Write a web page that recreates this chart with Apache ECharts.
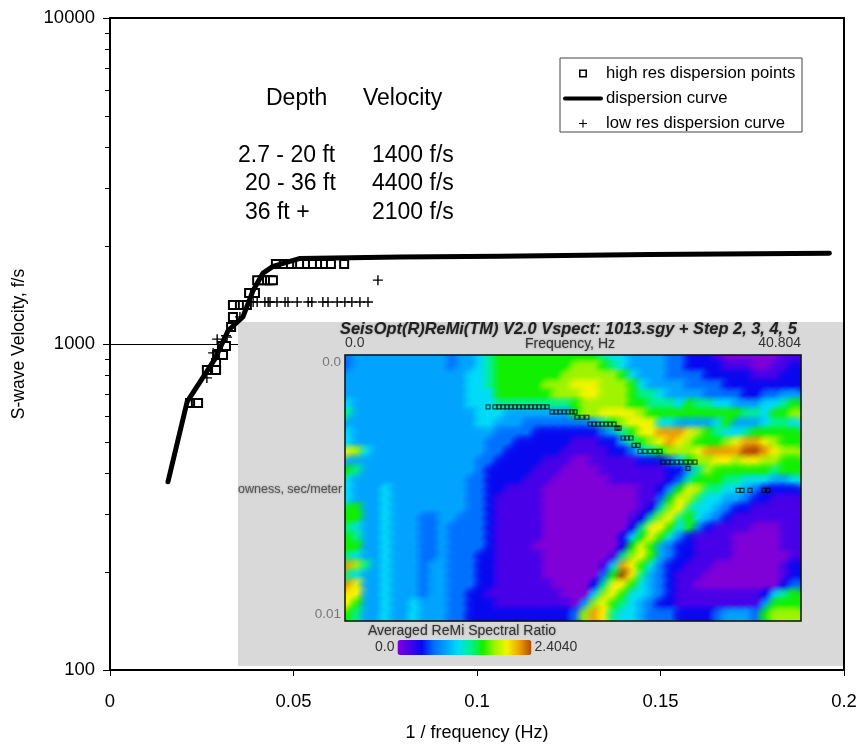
<!DOCTYPE html>
<html><head><meta charset="utf-8">
<style>html,body{margin:0;padding:0;background:#fff}#c{width:858px;height:744px}</style>
<script src="https://cdn.jsdelivr.net/npm/echarts@6/dist/echarts.min.js"></script>
</head><body><div id="c"></div>
<script>
// Dispersion curve: [1/frequency, velocity]
const curvePts = [[.0158,378],[.021,664],[.0286,900],[.0322,1100],[.0362,1210],[.039,1460],[.0417,1650],[.0444,1730],[.0518,1830],[.079,1850],[.1063,1860],[.147,1880],[.196,1900]];
// High resolution dispersion points
const highResPts = [[.0452,1760],[.0474,1760],[.0493,1760],[.051,1760],[.0518,1760],[.0537,1760],[.0553,1760],[.0572,1760],[.0586,1760],[.0602,1760],[.0638,1760],
[.0401,1570],[.0417,1570],[.0428,1570],[.0436,1570],[.0444,1570],[.0379,1434],[.0395,1434],
[.0335,1318],[.0354,1318],[.0362,1318],[.0373,1318],[.0335,1211],[.033,1127],[.0305,986],[.0316,986],[.0292,925],[.0308,925],[.0289,874],[.0264,832],[.0289,832],[.0218,659],[.0234,659],[.024,659]];
// Low resolution dispersion curve
const lowResPts = [[.039,1345],[.0401,1345],[.0422,1345],[.0431,1345],[.0436,1345],[.0455,1345],[.0477,1345],[.0485,1345],[.051,1345],[.054,1345],[.055,1345],[.058,1345],[.0594,1345],[.0619,1345],[.064,1345],[.0659,1345],[.0681,1345],[.0703,1345],[.073,1570],
[.0354,1211],[.0319,1050],[.0292,1035],[.0281,939],[.0264,787],[.0316,1060],[.0297,960]];
// Inset spectrum: rows of levels 0..b, top to bottom
const heatRows = [
"344444444443445677777777"+"777655444433222100000011",
"344444444443445677777777"+"888765444433222211100112",
"444444444444455677777778"+"888887544433332222211122",
"444444444444455677777888"+"999888754444333322222222",
"444444444444455577777788"+"899888766544443333223344",
"544444444444455566666666"+"788888776665766554445567",
"644444444444445554444444"+"788999987777777777665778",
"444444444444445544433333"+"334678999554444574445665",
"544444444444444433332222"+"222346799aaa987655677777",
"544444444444444333222222"+"11122467"+"89a98777"+"89aa9877",
"985444444444444332222221"+"11112235"+"678889aa"+"aabba988",
"444444444444443322222111"+"00111112"+"22357889"+"98998877",
"764444444444443222221110"+"00011111"+"11224687"+"77777677",
"544444444444433222211100"+"00001111"+"11236777"+"66555445",
"544454444444433221111000"+"00000001"+"12479866"+"55432222",
"544454444444433211111000"+"00000001"+"13798655"+"44322111",
"774454444444433211111000"+"00000001"+"26896554"+"32211111",
"774454443344333211111000"+"00000012"+"68967543"+"21111111",
"654454443343333211111000"+"00000026"+"99757321"+"11100011",
"764454443343333211111000"+"00000257"+"97532111"+"10000011",
"774454443343333211110000"+"00000279"+"74322111"+"10000011",
"654454443343332211111000"+"00001689"+"74322111"+"10000001",
"a86454443443332211111000"+"00015a97"+"53221110"+"00000012",
"654454443443332211111000"+"00037b96"+"43211100"+"00000012",
"a94454443443332211111100"+"00269975"+"43211000"+"00000023",
"994454443443322111111110"+"00589755"+"43211111"+"11112567",
"974454454443322211111111"+"04897654"+"32211111"+"11114777",
"764454454443322222222222"+"38a96554"+"33322223"+"44437888"
];
// Picks on the inset: [frequency Hz, slowness s/m]
const insetPicks = [[12.8,.00195],[13.42,.00195],[13.78,.00195],[14.14,.00195],[14.5,.00195],[14.85,.00195],[15.21,.00195],[15.57,.00195],[15.93,.00195],[16.29,.00195],[16.64,.00195],[17,.00195],[17.36,.00195],[17.72,.00195],[18.08,.00195],
[18.52,.00214],[18.88,.00214],[19.24,.00214],[19.6,.00214],[19.95,.00214],[20.31,.00214],[20.58,.00214],[20.76,.00234],[21.21,.00234],[21.65,.00234],
[21.92,.0026],[22.28,.0026],[22.64,.0026],[23,.0026],[23.36,.0026],[23.71,.0026],[24.07,.0026],[24.34,.00275],[24.52,.00275],[24.88,.00312],[25.23,.00312],[25.59,.00312],[25.86,.0034],[26.22,.0034],
[26.4,.00362],[26.84,.00362],[27.29,.00362],[27.74,.00362],[28.19,.00362],[28.45,.00403],[28.9,.00403],[29.26,.00403],[29.71,.00403],[30.07,.00403],[30.51,.00403],[30.87,.00403],[31.32,.00403],[30.69,.00426],
[35.17,.00509],[35.52,.00509],[36.24,.00509],[37.49,.00509],[37.85,.00509]];
const minorTicks = [200,300,400,500,600,700,800,900,2000,3000,4000,5000,6000,7000,8000,9000];
const insetColors = ['#8000d8','#4800e8','#0808f0','#0070ff','#00a4ff','#00dcf8','#00f090','#10f000','#a0f400','#f4f400','#f0a000','#b04808'];
const notes = [["Depth",266,99],["Velocity",363,99],["2.7 - 20 ft",238,156],["1400 f/s",372,156],["20 - 36 ft",245,184],["4400 f/s",372,184],["36 ft +",245,213],["2100 f/s",372,213]];

const heatData = [];
heatRows.forEach((r,y)=>{ for(let x=0;x<r.length;x++) heatData.push([x,y,parseInt(r[x],16)]); });
const cols = Array.from({length:48},(_,i)=>i), rows = Array.from({length:28},(_,i)=>i);
const F = 'Liberation Sans, Arial, sans-serif';
const insetText = (text,x,y,o)=>({type:'text',z:7,x,y,style:Object.assign({text,fill:'#333',font:'14px '+F,textVerticalAlign:'middle',textShadowColor:'rgba(60,60,60,.5)',textShadowBlur:2},o||{})});
const plus = 'path://M4.3 0h1.4v4.3h4.3v1.4h-4.3v4.3h-1.4v-4.3h-4.3v-1.4h4.3z';
const squareIcon = 'path://M0 0H10V10H0Z M2 2V8H8V2Z';
const lineIcon = 'path://M2 0H38A2 2 0 0 1 38 4H2A2 2 0 0 1 2 0Z';
const softCell = (params,api)=>{
  const c = api.coord([api.value(0),api.value(1)]), s = api.size([1,1]), r = s[0]*1.35;
  const col = api.visual('color');
  return {type:'rect',shape:{x:c[0]-r,y:c[1]-r,width:2*r,height:2*r},style:{fill:new echarts.graphic.RadialGradient(.5,.5,.5,[
    {offset:0,color:echarts.color.modifyAlpha(col,.95)},{offset:.45,color:echarts.color.modifyAlpha(col,.75)},{offset:1,color:echarts.color.modifyAlpha(col,0)}])}};
};

const chart = echarts.init(document.getElementById('c'),null,{renderer:'canvas'});
chart.setOption({
 animation:false,
 backgroundColor:'#fff',
 textStyle:{fontFamily:F},
 grid:[
  {left:110,top:18,width:734,height:652,show:true,borderColor:'#000',borderWidth:2,backgroundColor:'#fff',outerBoundsMode:'none'},
  {left:345,top:355,width:456,height:266,outerBoundsMode:'none'},
  {left:345,top:355,width:456,height:266,outerBoundsMode:'none'}
 ],
 xAxis:[
  {gridIndex:0,type:'value',min:0,max:.2,interval:.05,name:'1 / frequency (Hz)',nameLocation:'middle',nameGap:54,nameTextStyle:{fontSize:18,color:'#000'},
   axisLine:{onZero:false,lineStyle:{color:'#000',width:2}},axisTick:{length:6,lineStyle:{color:'#000'}},axisLabel:{fontSize:18.5,color:'#000',margin:22},splitLine:{show:false}},
  {gridIndex:1,type:'category',data:cols,show:false},
  {gridIndex:2,type:'value',min:0,max:40.804,interval:40.804,position:'top',z:7,axisLine:{show:false},axisTick:{show:false},splitLine:{show:false},
   axisLabel:{margin:5,fontSize:14,color:'#333',alignMinLabel:'left',alignMaxLabel:'right',formatter:v=>v===0?'0.0':String(v)}}
 ],
 yAxis:[
  {gridIndex:0,type:'log',logBase:10,min:100,max:10000,name:'S-wave Velocity, f/s',nameLocation:'middle',nameGap:82,nameTextStyle:{fontSize:17.5,color:'#000'},
   axisLine:{onZero:false,lineStyle:{color:'#000',width:2}},axisTick:{length:7,lineStyle:{color:'#000'}},axisLabel:{fontSize:18.5,color:'#000',margin:15,formatter:v=>String(v)},splitLine:{show:true,lineStyle:{color:'#000',width:1}},minorTick:{show:false}},
  {gridIndex:0,type:'log',logBase:10,min:100,max:10000,position:'left',axisLine:{show:false},axisLabel:{show:false},splitLine:{show:false},
   axisTick:{show:true,length:5,customValues:minorTicks,lineStyle:{color:'#000'}}},
  {gridIndex:1,type:'category',data:rows,inverse:true,show:false},
  {gridIndex:2,type:'value',min:0,max:.01,interval:.01,inverse:true,z:7,axisLine:{show:false},axisTick:{show:false},splitLine:{show:false},
   axisLabel:{margin:4,fontSize:13.5,color:'#777',verticalAlignMinLabel:'top',verticalAlignMaxLabel:'bottom',formatter:v=>v===0?'0.0':String(v)}}
 ],
 legend:{orient:'vertical',left:563,top:65,padding:0,width:236,selectedMode:false,itemWidth:40,itemHeight:8,itemGap:8,
  backgroundColor:'transparent',textStyle:{fontSize:16.7,color:'#000',padding:[0,0,0,-2]},
  data:[{name:'high res dispersion points',icon:squareIcon,itemStyle:{color:'#000',borderWidth:0}},
        {name:'dispersion curve',icon:lineIcon,itemStyle:{color:'#000'}},
        {name:'low res dispersion curve',icon:plus,itemStyle:{color:'#000'}}]},
 visualMap:{type:'continuous',seriesIndex:[3,4],dimension:2,min:0,max:11,orient:'horizontal',left:375,top:640,padding:0,itemWidth:15,itemHeight:134,textGap:3,
  text:['2.4040','0.0'],textStyle:{fontSize:14,color:'#333'},calculable:false,hoverLink:false,realtime:false,z:7,inRange:{color:insetColors}},
 series:[
  {name:'dispersion curve',type:'line',xAxisIndex:0,yAxisIndex:0,data:curvePts,showSymbol:false,symbol:'none',lineStyle:{color:'#000',width:5,cap:'round',join:'round'},itemStyle:{color:'#000'},silent:true},
  {name:'high res dispersion points',type:'scatter',xAxisIndex:0,yAxisIndex:0,data:highResPts,symbol:'rect',symbolSize:8,itemStyle:{color:'#fff',borderColor:'#000',borderWidth:2,opacity:1},silent:true},
  {name:'low res dispersion curve',type:'scatter',xAxisIndex:0,yAxisIndex:0,data:lowResPts,symbol:plus,symbolSize:10,itemStyle:{color:'#000',opacity:1},silent:true},
  {name:'spectrum',type:'heatmap',xAxisIndex:1,yAxisIndex:2,data:heatData,z:4,silent:true,progressive:0,emphasis:{disabled:true}},
  {name:'spectrum smooth',type:'custom',xAxisIndex:1,yAxisIndex:2,data:heatData,z:4,silent:true,clip:true,progressive:0,renderItem:softCell,encode:{x:0,y:1}},
  {name:'picks',type:'scatter',xAxisIndex:2,yAxisIndex:3,data:insetPicks,symbol:'rect',symbolSize:4,z:5,itemStyle:{color:'transparent',borderColor:'rgba(0,0,0,.85)',borderWidth:1.2},silent:true}
 ],
 graphic:[
  {type:'rect',z:3,silent:true,shape:{x:238,y:322,width:605,height:344},style:{fill:'#d9d9d9'}},
  {type:'rect',z:6,silent:true,shape:{x:345,y:355,width:456,height:266},style:{fill:'none',stroke:'#111',lineWidth:1.5}},
  {type:'rect',z:6,silent:true,shape:{x:560,y:58,width:242,height:74},style:{fill:'none',stroke:'#444',lineWidth:1}},
  insetText('SeisOpt(R)ReMi(TM) V2.0 Vspect: 1013.sgy + Step 2, 3, 4, 5',340,329,{font:'italic bold 16.4px '+F,fill:'#222'}),
  {type:'rect',z:8,silent:true,shape:{x:338,y:312,width:465,height:10},style:{fill:'#fff'}},
  insetText('Frequency, Hz',525,344),
  insetText('owness, sec/meter',238,490,{font:'12.5px '+F,fill:'#555'}),
  insetText('Averaged ReMi Spectral Ratio',368,631),
  ...notes.map(n=>({type:'text',z:7,x:n[1],y:n[2],style:{text:n[0],fill:'#000',font:'23px '+F,textVerticalAlign:'middle'}}))
 ]
});
</script></body></html>
